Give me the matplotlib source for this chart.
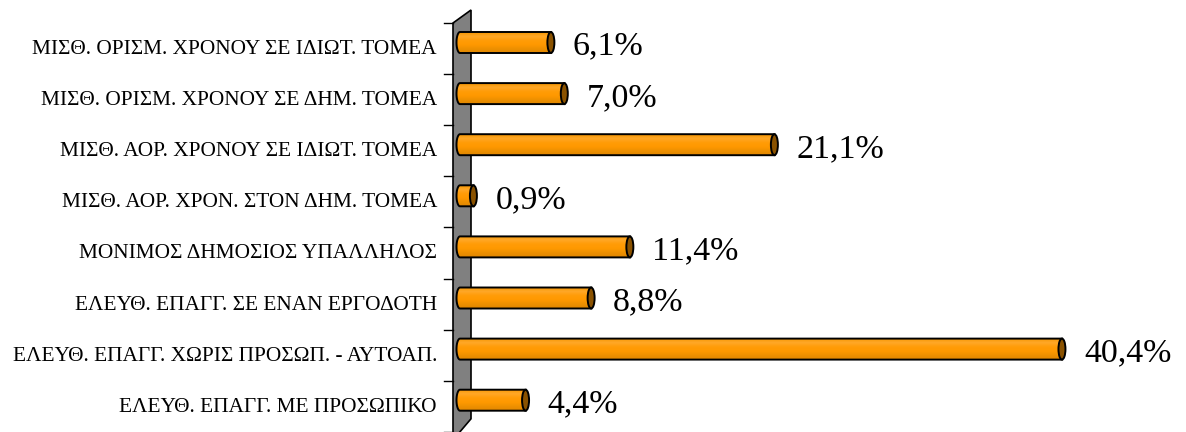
import numpy as np
import matplotlib
matplotlib.use("Agg")
import matplotlib.pyplot as plt
from matplotlib.path import Path
from matplotlib.patches import PathPatch, Ellipse, Polygon
from matplotlib.colors import LinearSegmentedColormap

categories = [
    "ΜΙΣΘ. ΟΡΙΣΜ. ΧΡΟΝΟΥ ΣΕ ΙΔΙΩΤ. ΤΟΜΕΑ",
    "ΜΙΣΘ. ΟΡΙΣΜ. ΧΡΟΝΟΥ ΣΕ ΔΗΜ. ΤΟΜΕΑ",
    "ΜΙΣΘ. ΑΟΡ. ΧΡΟΝΟΥ ΣΕ ΙΔΙΩΤ. ΤΟΜΕΑ",
    "ΜΙΣΘ. ΑΟΡ. ΧΡΟΝ. ΣΤΟΝ ΔΗΜ. ΤΟΜΕΑ",
    "ΜΟΝΙΜΟΣ ΔΗΜΟΣΙΟΣ ΥΠΑΛΛΗΛΟΣ",
    "ΕΛΕΥΘ. ΕΠΑΓΓ. ΣΕ ΕΝΑΝ ΕΡΓΟΔΟΤΗ",
    "ΕΛΕΥΘ. ΕΠΑΓΓ. ΧΩΡΙΣ ΠΡΟΣΩΠ. - ΑΥΤΟΑΠ.",
    "ΕΛΕΥΘ. ΕΠΑΓΓ. ΜΕ ΠΡΟΣΩΠΙΚΟ",
]
values = [6.1, 7.0, 21.1, 0.9, 11.4, 8.8, 40.4, 4.4]
value_labels = ["6,1%", "7,0%", "21,1%", "0,9%", "11,4%", "8,8%", "40,4%", "4,4%"]

W, H = 1186, 432
fig = plt.figure(figsize=(W / 100, H / 100), dpi=100)
ax = fig.add_axes([0, 0, 1, 1])
ax.set_axis_off()

# scale: pixels per data unit
PX_X = 14.9
PX_Y = 51.1
X0_PX = 460.0
Y0_PX = 42.5
ax.set_xlim(-X0_PX / PX_X, (W - X0_PX) / PX_X)
ax.set_ylim((H - Y0_PX) / PX_Y, -Y0_PX / PX_Y)

dx = 1.0 / PX_X
dy = 1.0 / PX_Y

serif = ["Liberation Serif", "DejaVu Serif"]

# back wall (3D gray)
wx0, wx1 = -7 * dx, 11 * dx
wall = Polygon([(wx0, -19.5 * dy), (wx1, -32.5 * dy), (wx1, (418.8 - 42.5) * dy),
                (wx0, (440 - 42.5) * dy)],
               closed=True, facecolor="#808080", edgecolor="black", lw=1.2, zorder=1)
ax.add_patch(wall)

# tick marks on wall front
n = len(categories)
for k in range(n + 1):
    yk = (23 - 42.5) * dy + k
    ax.plot([-16 * dx, wx0], [yk, yk], color="black", lw=1.0, zorder=2)

cmap = LinearSegmentedColormap.from_list(
    "cyl", ["#F59500", "#FFA828", "#FF9C08", "#FF9900", "#EE9000", "#E08700"])
grad = np.linspace(0, 1, 64).reshape(-1, 1)

bh = 21 * dy
cap_w = 7 * dx
bulge = 3.5 * dx

for i, (v, lab, vl) in enumerate(zip(values, categories, value_labels)):
    yc = i
    top, bot = yc - bh / 2, yc + bh / 2
    t = np.linspace(-np.pi / 2, np.pi / 2, 30)
    left_x = -bulge * np.cos(t)
    left_y = yc + (bh / 2) * np.sin(t)
    verts = list(zip(left_x, left_y)) + [(v, bot), (v, top), (left_x[0], left_y[0])]
    codes = [Path.MOVETO] + [Path.LINETO] * (len(verts) - 2) + [Path.CLOSEPOLY]
    path = Path(verts, codes)
    patch = PathPatch(path, facecolor="none", edgecolor="black", lw=1.4, zorder=4)
    ax.add_patch(patch)
    im = ax.imshow(grad, cmap=cmap, aspect="auto",
                   extent=(-bulge, v, bot, top), zorder=3, interpolation="bilinear")
    im.set_clip_path(patch)
    cap = Ellipse((v, yc), width=cap_w, height=bh, facecolor="#8A5200",
                  edgecolor="black", lw=1.4, zorder=5)
    ax.add_patch(cap)
    ax.text(-23 * dx, yc + 7 * dy, lab, ha="right", va="center",
            fontsize=15.4, family=serif, color="black")
    ax.text(v + 22 * dx, yc + 4 * dy, vl, ha="left", va="center",
            fontsize=24.5, family=serif, color="black")

fig.savefig("out.png", dpi=100)
